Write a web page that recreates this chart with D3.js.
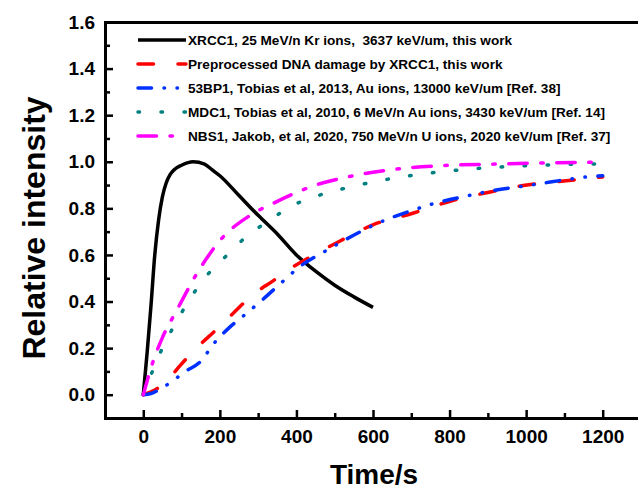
<!DOCTYPE html>
<html><head><meta charset="utf-8">
<script src="https://cdn.jsdelivr.net/npm/d3@7"></script>
<style>
html,body{margin:0;padding:0;background:#fff;overflow:hidden;}
svg{display:block;}
text{font-family:Arial,"Liberation Sans",Helvetica,sans-serif;font-weight:bold;fill:#000;}
</style></head>
<body>
<svg id="chart" width="638" height="489"></svg>
<script>
// ---- data ----
const xrccT = [0,5,10,20,30,40,50,60,70,80,100,130,160,180,200,250,300,350,400,450,500,550,600];
const xrccV = [0,0.09,0.18,0.38,0.60,0.75,0.85,0.91,0.945,0.965,0.985,1.0,0.99,0.965,0.94,0.855,0.77,0.69,0.60,0.53,0.47,0.42,0.375];

const preT = [0,20,44,70,96,139,191,235,287,340,392,435,514,601,706,810,906,1002,1098,1200];
const preV = [0,0.012,0.035,0.075,0.125,0.20,0.28,0.35,0.43,0.49,0.55,0.59,0.66,0.73,0.78,0.835,0.87,0.90,0.917,0.935];

const bp53T = [0,20,45,74,110,148,187,226,270,313,360,409,479,522,618,700,758,850,915,1000,1063,1159,1200];
const bp53V = [0,0.005,0.025,0.056,0.10,0.14,0.225,0.29,0.35,0.41,0.48,0.55,0.62,0.66,0.74,0.79,0.82,0.855,0.877,0.897,0.913,0.935,0.94];

const mdcT = [0,25,50,82,160,213,270,331,387,448,505,622,740,862,1036,1154,1200];
const mdcV = [0,0.105,0.20,0.30,0.50,0.59,0.68,0.75,0.81,0.85,0.877,0.92,0.95,0.97,0.985,0.99,0.99];

const nbsT = [0,25,50,90,140,210,270,350,470,520,600,700,800,920,1050,1200];
const nbsV = [0,0.14,0.245,0.37,0.52,0.68,0.76,0.83,0.91,0.93,0.955,0.975,0.985,0.99,0.995,0.998];

const seriesNames = [
  "XRCC1, 25 MeV/n Kr ions,  3637 keV/um, this work",
  "Preprocessed DNA damage by XRCC1, this work",
  "53BP1, Tobias et al, 2013, Au ions, 13000 keV/um [Ref. 38]",
  "MDC1, Tobias et al, 2010, 6 MeV/n Au ions, 3430 keV/um [Ref. 14]",
  "NBS1, Jakob, et al, 2020, 750 MeV/n U ions, 2020 keV/um [Ref. 37]"
];
const xTicks = [0,200,400,600,800,1000,1200];
const yTicks = [0.0,0.2,0.4,0.6,0.8,1.0,1.2,1.4,1.6];

// ---- styles ----
const styles = [
  {color:"#000000", dash:null},
  {color:"#ff0000", dash:"15.5,24.5"},
  {color:"#0030ff", dash:"13.5,12.5,0.5,12.5,0.5,12.5"},
  {color:"#008080", dash:"1.5,21.5"},
  {color:"#ff00ff", dash:"18.5,13.5,2.5,13.5"}
];
const seriesData = [[xrccT,xrccV],[preT,preV],[bp53T,bp53V],[mdcT,mdcV],[nbsT,nbsV]];

const svg = d3.select("#chart");
const L = 105, R = 641, T = 22, B = 418;
const x = d3.scaleLinear().domain([-100,1300]).range([L,R]);
const y = d3.scaleLinear().domain([-0.1,1.6]).range([B,T]);

// curves
const line = d3.line().x(d=>x(d[0])).y(d=>y(d[1])).curve(d3.curveMonotoneX);
seriesData.forEach((s,i)=>{
  const pts = s[0].map((t,j)=>[t,s[1][j]]);
  svg.append("path").datum(pts).attr("d",line)
    .attr("fill","none").attr("stroke",styles[i].color).attr("stroke-width",3.5)
    .attr("stroke-linecap", i===0 ? "butt" : "round")
    .attr("stroke-linejoin","round")
    .attr("stroke-dasharray",styles[i].dash);
});

// axes (domain lines form the frame)
const xMinor = d3.range(-100,1301,100).filter(v=>v%200!==0);
const yMinor = d3.range(1,16,2).map(v=>v/10);

svg.append("g").attr("transform",`translate(0,${B})`)
  .call(d3.axisBottom(x).tickValues(xMinor).tickSize(-5).tickSizeOuter(0).tickFormat(""));
const gx2 = svg.append("g").attr("transform",`translate(0,${B})`)
  .call(d3.axisBottom(x).tickValues(xTicks).tickSize(-8).tickSizeOuter(0).tickPadding(12).tickFormat(d3.format("d")));
gx2.selectAll("text").attr("font-size","19px").attr("font-family","Arial, 'Liberation Sans', sans-serif").attr("font-weight","bold");

svg.append("g").attr("transform",`translate(${L},0)`)
  .call(d3.axisLeft(y).tickValues(yMinor).tickSize(-5).tickSizeOuter(0).tickFormat(""));
const gy2 = svg.append("g").attr("transform",`translate(${L},0)`)
  .call(d3.axisLeft(y).tickValues(yTicks).tickSize(-8).tickSizeOuter(0).tickPadding(10).tickFormat(d3.format(".1f")));
gy2.selectAll("text").attr("font-size","19px").attr("font-family","Arial, 'Liberation Sans', sans-serif").attr("font-weight","bold");

svg.append("g").attr("transform",`translate(0,${T})`)
  .call(d3.axisTop(x).tickValues([]).tickSizeOuter(0));

svg.selectAll(".tick line").attr("stroke","#000").attr("stroke-width",2.5);
svg.selectAll(".domain").attr("stroke","#000").attr("stroke-width",3).attr("stroke-linecap","square");

// legend
const lg = svg.append("g");
seriesNames.forEach((name,i)=>{
  const yy = 40 + i*24;
  lg.append("line").attr("x1",138).attr("x2",186).attr("y1",yy).attr("y2",yy)
    .attr("stroke",styles[i].color).attr("stroke-width",3.5)
    .attr("stroke-linecap", i===0 ? "butt" : "round")
    .attr("stroke-dasharray",styles[i].dash);
  lg.append("text").attr("x",188).attr("y",yy).attr("dy","0.36em")
    .attr("font-size","13.6px").style("white-space","pre").text(name);
});

// axis titles
svg.append("text").attr("transform","translate(45,228) rotate(-90)")
  .attr("text-anchor","middle").attr("font-size","32px").text("Relative intensity");
svg.append("text").attr("x",374).attr("y",484)
  .attr("text-anchor","middle").attr("font-size","28px").text("Time/s");
</script>
</body></html>
